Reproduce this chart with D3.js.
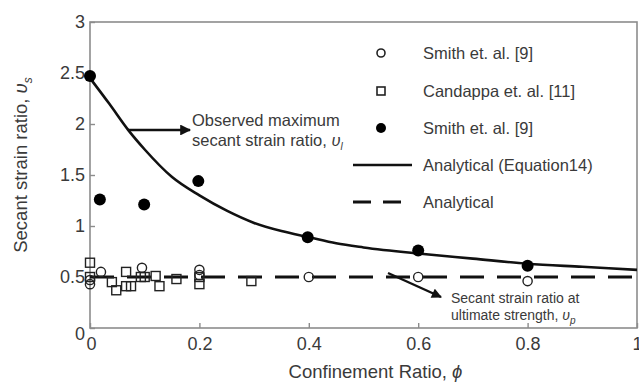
<!DOCTYPE html>
<html>
<head>
<meta charset="utf-8">
<script src="https://cdn.jsdelivr.net/npm/d3@7"></script>
<style>
  html, body { margin: 0; padding: 0; background: #fff; }
  svg { display: block; font-family: "Liberation Sans", Arial, sans-serif; }
</style>
</head>
<body>
<svg id="chart" width="639" height="382"></svg>
<script>
// Analytical curve (Equation 14): secant strain ratio vs confinement ratio
const curvePhi   = [0, 0.035, 0.07, 0.1, 0.15, 0.2, 0.25, 0.3, 0.35, 0.4, 0.45, 0.5, 0.6, 0.7, 0.8, 0.9, 1.0];
const curveRatio = [2.45, 2.2, 1.94, 1.75, 1.48, 1.30, 1.15, 1.03, 0.95, 0.89, 0.83, 0.79, 0.73, 0.68, 0.63, 0.60, 0.57];

// Analytical secant strain ratio at ultimate strength (constant)
const analyticalPhi   = [0, 1];
const analyticalRatio = [0.5, 0.5];

// Smith et. al. [9] – ratio at ultimate strength (open circles)
const smithOpenPhi   = [0, 0, 0.02, 0.095, 0.2, 0.2, 0.4, 0.6, 0.8];
const smithOpenRatio = [0.47, 0.43, 0.55, 0.59, 0.57, 0.52, 0.50, 0.50, 0.46];

// Candappa et. al. [11] (open squares)
const candappaPhi   = [0, 0, 0.04, 0.048, 0.066, 0.066, 0.075, 0.093, 0.1, 0.12, 0.127, 0.158, 0.2, 0.2, 0.295];
const candappaRatio = [0.64, 0.5, 0.45, 0.37, 0.55, 0.41, 0.41, 0.5, 0.5, 0.51, 0.41, 0.48, 0.5, 0.43, 0.46];

// Smith et. al. [9] – observed maximum ratio (filled circles)
const smithMaxPhi   = [0, 0.018, 0.099, 0.198, 0.398, 0.6, 0.8];
const smithMaxRatio = [2.47, 1.26, 1.21, 1.44, 0.89, 0.76, 0.61];

// Axis ticks
const xTicks = [0, 0.2, 0.4, 0.6, 0.8, 1];
const yTicks = [0, 0.5, 1, 1.5, 2, 2.5, 3];
const xTickLabels = ["0", "0.2", "0.4", "0.6", "0.8", "1"];
const yTickLabels = ["0", "0.5", "1", "1.5", "2", "2.5", "3"];

const legendLabels = ["Smith et. al. [9]", "Candappa et. al. [11]", "Smith et. al. [9]", "Analytical (Equation14)", "Analytical"];

const svg = d3.select("#chart");
const plotL = 90, plotR = 637, plotT = 22, plotB = 328;
const x = d3.scaleLinear().domain([0, 1]).range([plotL, plotR]);
const y = d3.scaleLinear().domain([0, 3]).range([plotB, plotT]);

const textCol = "#3a3a3a";
const axisCol = "#8c8c8c";

// arrowhead marker
svg.append("defs").append("marker")
  .attr("id", "arrow").attr("viewBox", "0 0 10 10")
  .attr("refX", 9).attr("refY", 5)
  .attr("markerWidth", 5).attr("markerHeight", 4.2)
  .attr("markerUnits", "strokeWidth")
  .attr("orient", "auto")
  .append("path").attr("d", "M0,0 L10,5 L0,10 Z").attr("fill", "#111");

// frame
svg.append("rect")
  .attr("x", plotL).attr("y", plotT)
  .attr("width", plotR - plotL).attr("height", plotB - plotT)
  .attr("fill", "none").attr("stroke", axisCol).attr("stroke-width", 1.6);

// axes (ticks pointing inward)
const xAxis = d3.axisBottom(x).tickValues(xTicks).tickSize(-5).tickPadding(9)
  .tickFormat((d, i) => xTickLabels[i]);
const gx = svg.append("g").attr("transform", `translate(0,${plotB})`).call(xAxis);
const yAxis = d3.axisLeft(y).tickValues(yTicks).tickSize(-5).tickPadding(5)
  .tickFormat((d, i) => yTickLabels[i]);
const gy = svg.append("g").attr("transform", `translate(${plotL},0)`).call(yAxis);

[gx, gy].forEach(g => {
  g.select(".domain").remove();
  g.selectAll(".tick line").attr("stroke", axisCol).attr("stroke-width", 1.4);
  g.selectAll(".tick text").attr("fill", textCol).style("font-size", "18px");
});
// the y-axis zero sits a little lower, below the corner
gy.selectAll(".tick text").filter(d => d === 0).attr("dy", "0.62em");
gx.selectAll(".tick text").filter(d => d === 0).attr("dx", "0.05em");

// axis titles
svg.append("text")
  .attr("x", (plotL + plotR) / 2 + 12).attr("y", 378)
  .attr("text-anchor", "middle").attr("fill", textCol)
  .style("font-size", "18.5px")
  .html('Confinement Ratio, <tspan font-style="italic">ϕ</tspan>');

svg.append("text")
  .attr("transform", "translate(27,165) rotate(-90)")
  .attr("text-anchor", "middle").attr("fill", textCol)
  .style("font-size", "18.5px")
  .html('Secant strain ratio, <tspan font-style="italic">υ</tspan><tspan font-style="italic" font-size="12px" dy="5">s</tspan>');

// analytical dashed line
const line = d3.line().x(d => x(d[0])).y(d => y(d[1]));
svg.append("path")
  .datum(analyticalPhi.map((p, i) => [p, analyticalRatio[i]]))
  .attr("d", line)
  .attr("fill", "none").attr("stroke", "#111")
  .attr("stroke-width", 3).attr("stroke-dasharray", "24,13");

// analytical curve (Equation 14)
svg.append("path")
  .datum(curvePhi.map((p, i) => [p, curveRatio[i]]))
  .attr("d", line.curve(d3.curveMonotoneX))
  .attr("fill", "none").attr("stroke", "#111").attr("stroke-width", 2.6);

// Candappa squares
const sq = 9;
svg.append("g").selectAll("rect")
  .data(candappaPhi.map((p, i) => [p, candappaRatio[i]]))
  .join("rect")
  .attr("x", d => x(d[0]) - sq / 2).attr("y", d => y(d[1]) - sq / 2)
  .attr("width", sq).attr("height", sq)
  .attr("fill", "none").attr("stroke", "#222").attr("stroke-width", 1.4);

// Smith open circles
svg.append("g").selectAll("circle")
  .data(smithOpenPhi.map((p, i) => [p, smithOpenRatio[i]]))
  .join("circle")
  .attr("cx", d => x(d[0])).attr("cy", d => y(d[1])).attr("r", 4.6)
  .attr("fill", "none").attr("stroke", "#222").attr("stroke-width", 1.4);

// Smith filled circles
svg.append("g").selectAll("circle")
  .data(smithMaxPhi.map((p, i) => [p, smithMaxRatio[i]]))
  .join("circle")
  .attr("cx", d => x(d[0])).attr("cy", d => y(d[1])).attr("r", 6)
  .attr("fill", "#000");

// annotation: observed maximum
svg.append("line")
  .attr("x1", 128).attr("y1", 130).attr("x2", 190).attr("y2", 130)
  .attr("stroke", "#111").attr("stroke-width", 2.6).attr("marker-end", "url(#arrow)");
const ann1 = svg.append("text").attr("fill", textCol).style("font-size", "16.5px");
ann1.append("tspan").attr("x", 192).attr("y", 126).text("Observed maximum");
ann1.append("tspan").attr("x", 192).attr("y", 146)
  .html('secant strain ratio, <tspan font-style="italic">υ</tspan><tspan font-style="italic" font-size="10px" dy="4">l</tspan>');

// annotation: ultimate strength
svg.append("line")
  .attr("x1", 388).attr("y1", 273).attr("x2", 441).attr("y2", 297)
  .attr("stroke", "#111").attr("stroke-width", 2.4).attr("marker-end", "url(#arrow)");
const ann2 = svg.append("text").attr("fill", textCol).style("font-size", "14px");
ann2.append("tspan").attr("x", 451).attr("y", 303).text("Secant strain ratio at");
ann2.append("tspan").attr("x", 451).attr("y", 320)
  .html('ultimate strength, <tspan font-style="italic">υ</tspan><tspan font-style="italic" font-size="10px" dy="4">p</tspan>');

// legend
const legY = [53, 91, 128, 165, 202];
const lg = svg.append("g");
lg.append("circle").attr("cx", 381).attr("cy", legY[0]).attr("r", 4)
  .attr("fill", "none").attr("stroke", "#222").attr("stroke-width", 1.6);
lg.append("rect").attr("x", 377).attr("y", legY[1] - 4).attr("width", 8).attr("height", 8)
  .attr("fill", "none").attr("stroke", "#222").attr("stroke-width", 1.6);
lg.append("circle").attr("cx", 381).attr("cy", legY[2]).attr("r", 5).attr("fill", "#000");
lg.append("line").attr("x1", 353).attr("x2", 412).attr("y1", legY[3]).attr("y2", legY[3])
  .attr("stroke", "#111").attr("stroke-width", 2.6);
lg.append("line").attr("x1", 353).attr("x2", 412).attr("y1", legY[4]).attr("y2", legY[4])
  .attr("stroke", "#111").attr("stroke-width", 3).attr("stroke-dasharray", "18,12");
lg.selectAll("text").data(legendLabels).join("text")
  .attr("x", 423).attr("y", (d, i) => legY[i]).attr("dy", "0.36em")
  .attr("fill", textCol).style("font-size", "16.5px")
  .text(d => d);
</script>
</body>
</html>
